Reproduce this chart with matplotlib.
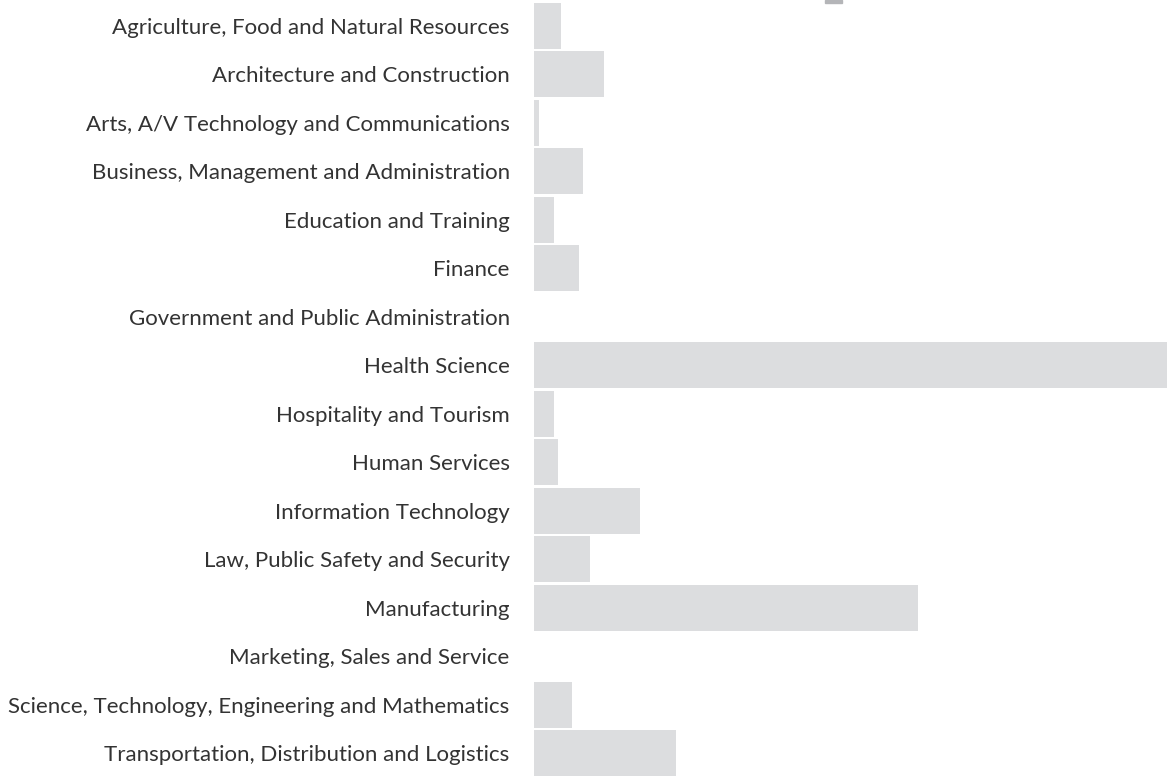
import matplotlib

matplotlib.use("Agg")
import matplotlib.pyplot as plt
from matplotlib.patches import Rectangle

categories = [
    "Agriculture, Food and Natural Resources",
    "Architecture and Construction",
    "Arts, A/V Technology and Communications",
    "Business, Management and Administration",
    "Education and Training",
    "Finance",
    "Government and Public Administration",
    "Health Science",
    "Hospitality and Tourism",
    "Human Services",
    "Information Technology",
    "Law, Public Safety and Security",
    "Manufacturing",
    "Marketing, Sales and Service",
    "Science, Technology, Engineering and Mathematics",
    "Transportation, Distribution and Logistics",
]
values = [27, 70, 5, 49, 20, 45, 0, 633, 20, 24, 106, 56, 384, 0, 38, 142]

plt.rcParams["font.family"] = ["Lato", "DejaVu Sans"]

fig = plt.figure(figsize=(11.67, 7.76), dpi=100)
ax = fig.add_axes([534 / 1167, 0, 1 - 534 / 1167, 1])

pitch = 48.47
ypos = list(range(len(categories)))
ax.barh(ypos, values, height=0.95, color="#dcdddf", edgecolor="none")
ax.set_xlim(0, 633)
ax.set_ylim(15 + 23 / pitch, -26 / pitch)
ax.set_yticks(ypos)
ax.set_yticklabels(categories, fontsize=16, color="#333333")
ax.tick_params(axis="y", length=0, pad=17.5)
ax.set_xticks([])
for s in ax.spines.values():
    s.set_visible(False)

# partly visible legend marker at the top edge
fig.patches.append(
    Rectangle((825 / 1167, 1 - 3 / 776), 17 / 1167, 3 / 776,
              transform=fig.transFigure, color="#b4b5b8")
)

fig.savefig("out.png", dpi=100)
